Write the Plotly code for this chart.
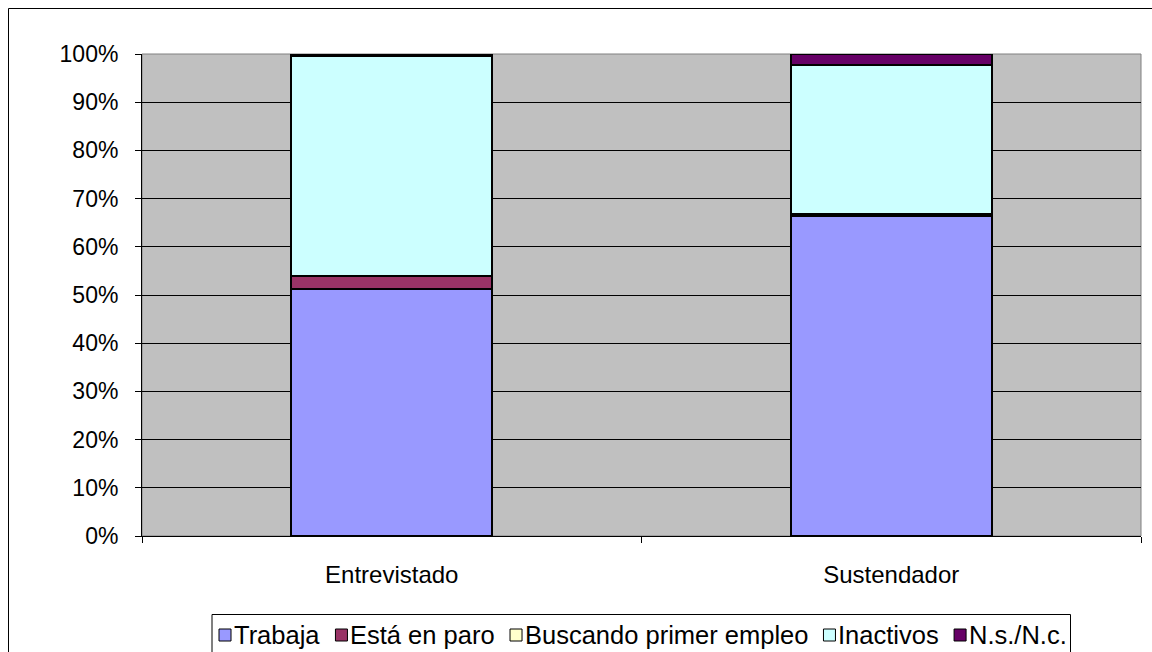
import plotly.graph_objects as go

# Situación laboral: entrevistado frente al sustentador principal (proporciones)
categories = ["Entrevistado", "Sustendador"]
series_names = ["Trabaja", "Está en paro", "Buscando primer empleo", "Inactivos", "N.s./N.c."]
trabaja = [0.512, 0.663]
en_paro = [0.027, 0.006]
buscando = [0.000, 0.000]
inactivos = [0.456, 0.309]
ns_nc = [0.005, 0.022]
series_colors = ["#9999FF", "#993366", "#FFFFCC", "#CCFFFF", "#660066"]
y_ticks = [0, 0.1, 0.2, 0.3, 0.4, 0.5, 0.6, 0.7, 0.8, 0.9, 1.0]

W, H = 1152, 652
ML, MR, MT, MB = 142, 11, 54, 116
PW, PH = W - ML - MR, H - MT - MB


def px_x(p):
    return (p - ML) / PW


def px_y(p):
    return (H - MB - p) / PH


FONT = "Liberation Sans, Arial, sans-serif"
FS_Y, FS_X, FS_LEG = 23, 24, 25.5

# Arial / Liberation Sans advance widths (em) for the legend labels
ADV = {"T": .611, "r": .333, "a": .556, "b": .556, "j": .222, "E": .667, "s": .5,
       "t": .278, "á": .556, " ": .278, "e": .556, "n": .556, "p": .556, "o": .556,
       "B": .667, "u": .556, "c": .5, "d": .556, "i": .222, "m": .833, "l": .222,
       "I": .278, "v": .5, "N": .722, ".": .278, "/": .278}


def text_width(s, size):
    return sum(ADV.get(ch, .556) for ch in s) * size


fig = go.Figure()
for name, vals, col in zip(series_names, [trabaja, en_paro, buscando, inactivos, ns_nc], series_colors):
    fig.add_trace(go.Bar(
        x=categories, y=vals, name=name,
        marker=dict(color=col, line=dict(color="#000000", width=2)),
        showlegend=False,
    ))

shapes = []
# plot-area frame (grey on top and right)
shapes.append(dict(type="rect", xref="paper", yref="paper", x0=0, x1=1, y0=0, y1=1,
                   line=dict(color="#808080", width=1), layer="below"))
# outer chart frame
shapes.append(dict(type="rect", xref="paper", yref="paper",
                   x0=px_x(8.5), x1=px_x(1170), y0=px_y(670), y1=px_y(8.5),
                   line=dict(color="#000000", width=1)))
# legend frame
shapes.append(dict(type="rect", xref="paper", yref="paper",
                   x0=px_x(212), x1=px_x(1070.5), y0=px_y(670), y1=px_y(614.5),
                   line=dict(color="#000000", width=1), fillcolor="#FFFFFF"))

# legend entries laid out left to right: square marker + label
annotations = []
cursor = 219
for name, col in zip(series_names, series_colors):
    shapes.append(dict(type="rect", xref="paper", yref="paper",
                       x0=px_x(cursor), x1=px_x(cursor + 12), y0=px_y(641), y1=px_y(629),
                       line=dict(color="#000000", width=1), fillcolor=col))
    annotations.append(dict(xref="paper", yref="paper", x=px_x(cursor + 13), y=px_y(635),
                            xanchor="left", yanchor="middle", showarrow=False,
                            text=name, font=dict(family=FONT, size=FS_LEG, color="#000000")))
    cursor += 13 + text_width(name, FS_LEG) + 17

fig.update_layout(
    width=W, height=H,
    margin=dict(l=ML, r=MR, t=MT, b=MB, pad=0),
    barmode="stack",
    bargap=0.597,
    paper_bgcolor="#FFFFFF",
    plot_bgcolor="#C0C0C0",
    font=dict(family=FONT, size=FS_Y, color="#000000"),
    shapes=shapes,
    annotations=annotations,
    xaxis=dict(
        type="category", tickson="boundaries", ticks="outside", ticklen=6,
        tickcolor="#000000", showline=True, linecolor="#000000", linewidth=1,
        showgrid=False, ticklabelstandoff=17,
        tickfont=dict(family=FONT, size=FS_X, color="#000000"),
    ),
    yaxis=dict(
        range=[0, 1], tickvals=y_ticks, tickformat=".0%", ticks="outside", ticklen=6,
        tickcolor="#000000", showline=True, linecolor="#000000", linewidth=1,
        showgrid=True, gridcolor="#000000", gridwidth=1, zeroline=False,
        ticklabelstandoff=12,
        tickfont=dict(family=FONT, size=FS_Y, color="#000000"),
    ),
)

fig.write_html("out.html")
